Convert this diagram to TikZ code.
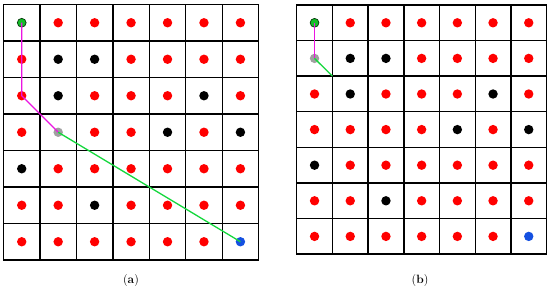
\documentclass[tikz,border=0pt]{standalone}
\usepackage{tikz}
\usetikzlibrary{positioning,calc}
\definecolor{dotred}{RGB}{255,0,0}
\definecolor{dotgreen}{RGB}{20,190,40}
\definecolor{dotgray}{RGB}{160,160,160}
\definecolor{dotblue}{RGB}{20,80,225}
\definecolor{pathpink}{RGB}{235,20,225}
\definecolor{pathgreen}{RGB}{20,215,60}
\begin{document}
\begin{tikzpicture}[
  x=1pt,y=-1pt,
  gridline/.style={line width=1.4pt, line cap=rect, black},
  dot/.style={circle, inner sep=0pt, minimum size=9.4pt},
  rd/.style={fill=dotred},
  bk/.style={fill=black},
  gn/.style={fill=dotgreen, draw=black!70!dotgreen, line width=0.7pt, minimum size=8.8pt},
  gy/.style={fill=dotgray},
  bl/.style={fill=dotblue},
  pinkpath/.style={pathpink, line width=1.3pt},
  greenpath/.style={pathgreen, line width=1.3pt},
  caption/.style={font=\large}
]
\useasboundingbox (0,0) rectangle (550,294);

% grid (a)
\begin{scope}[shift={(3.5,4.5)}, x=36.45pt, y=-36.5pt]
  \foreach \i in {0,...,7} {
    \draw[gridline] (\i,0) -- (\i,7);
    \draw[gridline] (0,\i) -- (7,\i);
  }
  \foreach \row [count=\r from 0] in {
    {gn,rd,rd,rd,rd,rd,rd},
    {rd,bk,bk,rd,rd,rd,rd},
    {rd,bk,rd,rd,rd,bk,rd},
    {rd,gy,rd,rd,bk,rd,bk},
    {bk,rd,rd,rd,rd,rd,rd},
    {rd,rd,bk,rd,rd,rd,rd},
    {rd,rd,rd,rd,rd,rd,bl}} {
    \foreach \col [count=\c from 0] in \row
      \node[dot,\col] (a-\r-\c) at (\c+0.5,\r+0.5) {};
  }
\end{scope}

% grid (b)
\begin{scope}[shift={(296.7,5)}, x=35.7pt, y=-35.6pt]
  \foreach \i in {0,...,7} {
    \draw[gridline] (\i,0) -- (\i,7);
    \draw[gridline] (0,\i) -- (7,\i);
  }
  \foreach \row [count=\r from 0] in {
    {gn,rd,rd,rd,rd,rd,rd},
    {gy,bk,bk,rd,rd,rd,rd},
    {rd,bk,rd,rd,rd,bk,rd},
    {rd,rd,rd,rd,bk,rd,bk},
    {bk,rd,rd,rd,rd,rd,rd},
    {rd,rd,bk,rd,rd,rd,rd},
    {rd,rd,rd,rd,rd,rd,bl}} {
    \foreach \col [count=\c from 0] in \row
      \node[dot,\col] (b-\r-\c) at (\c+0.5,\r+0.5) {};
  }
  \coordinate (b-corner) at (1,2);
\end{scope}

% paths
\draw[pinkpath] (a-0-0.center) -- (a-2-0.center) -- (a-3-1.center);
\draw[greenpath] (a-3-1.center) -- (a-6-6.center);
\draw[pinkpath] (b-0-0.center) -- (b-1-0.center);
\draw[greenpath] (b-1-0.center) -- (b-corner);

% captions
\node[caption] (cap-a) at (131,281) {(\textbf{a})};
\node[caption] (cap-b) at (420,281) {(\textbf{b})};
\end{tikzpicture}
\end{document}
